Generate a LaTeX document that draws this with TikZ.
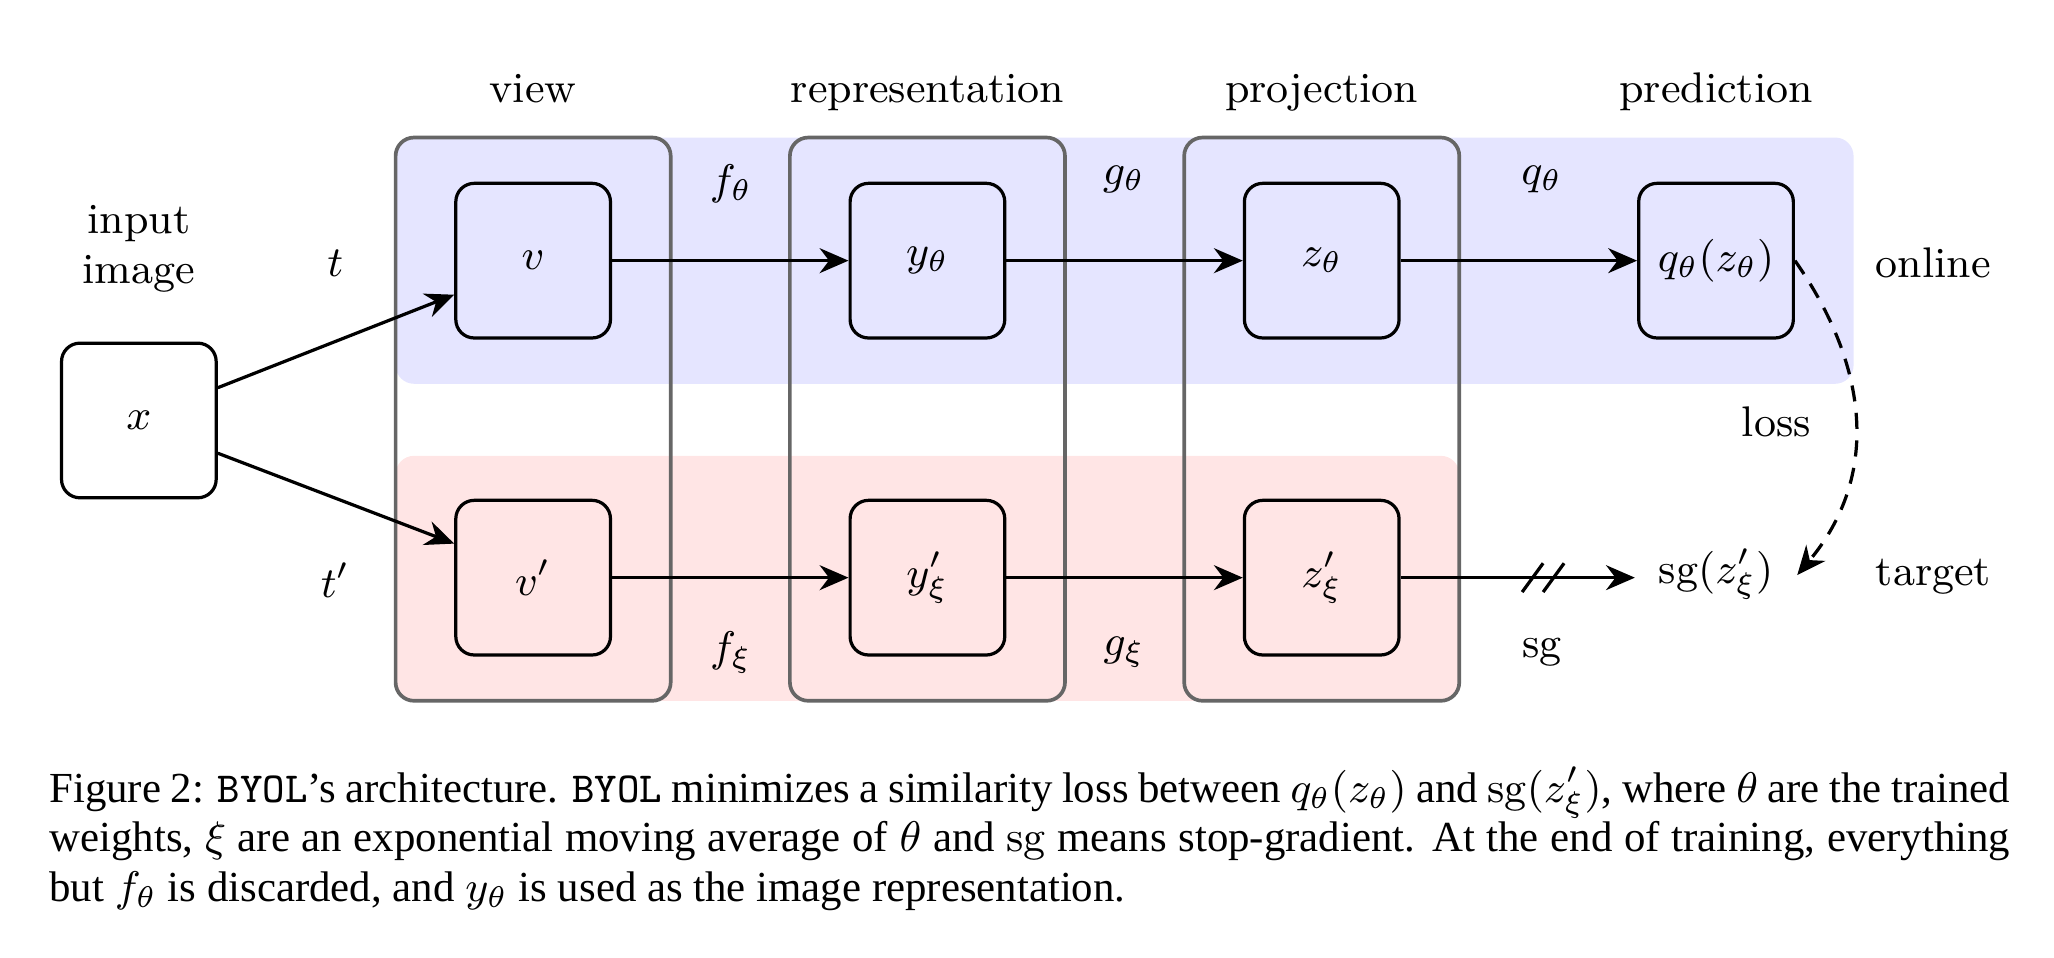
\RequirePackage{fix-cm}
\documentclass[tikz,border=0pt]{standalone}
\usepackage{fontspec}
\newfontfamily\capfont{Liberation Serif}
\usetikzlibrary{arrows.meta,calc}
\begin{document}
\begin{tikzpicture}[x=0.01cm,y=0.01cm,
  box/.style={draw,line width=0.7pt,rounded corners=4pt,minimum width=1.18cm,minimum height=1.18cm,inner sep=0pt,font=\fontsize{9.3}{11}\selectfont},
  frame/.style={draw=black!60,line width=0.8pt,rounded corners=4pt},
  lbl/.style={font=\fontsize{9.3}{11}\selectfont,inner sep=0pt},
  arr/.style={line width=0.7pt,-{Stealth[length=2.2mm,width=1.9mm]}},
]
\useasboundingbox (0,0) rectangle (1568,731);
% bands
\fill[blue!10, rounded corners=4pt] (302,438) rectangle (1415,626);
\fill[red!10, rounded corners=4pt] (302,196) rectangle (1114,383);
% column frames
\draw[frame] (302,196) rectangle (512,626);
\draw[frame] (603,196) rectangle (813,626);
\draw[frame] (904,196) rectangle (1114,626);
% column labels
\node[lbl,anchor=base] (lview) at (407,653) {view};
\node[lbl,anchor=base] (lrep) at (708,653) {representation};
\node[lbl,anchor=base] (lproj) at (1009,653) {projection};
\node[lbl,anchor=base] (lpred) at (1310,653) {prediction};
% nodes
\node[box] (x) at (106,410) {$x$};
\node[box] (v) at (407,532) {$v$};
\node[box] (vp) at (407,290) {$v'$};
\node[box] (y) at (708,532) {$y_\theta$};
\node[box] (yp) at (708,290) {$y'_\xi$};
\node[box] (z) at (1009,532) {$z_\theta$};
\node[box] (zp) at (1009,290) {$z'_\xi$};
\node[box] (q) at (1310,532) {$q_\theta(z_\theta)$};
\node[lbl,inner xsep=5pt] (sg) at (1310,293) {$\mathrm{sg}(z'_\xi)$};
% side labels
\node[lbl,align=center] (inp) at (106,541) {input\\image};
\node[lbl] (t) at (256,530) {$t$};
\node[lbl] (tp) at (256,288) {$t'$};
\node[lbl] (ft) at (558,591) {$f_\theta$};
\node[lbl] (gt) at (858,594) {$g_\theta$};
\node[lbl] (qt) at (1177,594) {$q_\theta$};
\node[lbl] (fx) at (558,233) {$f_\xi$};
\node[lbl] (gx) at (858,233) {$g_\xi$};
\node[lbl] (sgl) at (1177,233) {$\mathrm{sg}$};
\node[lbl] (online) at (1476,530) {online};
\node[lbl] (target) at (1476,291) {target};
\node[lbl] (loss) at (1356,409) {loss};
% connectors
\draw[arr] ($(x.east)+(0,25)$) -- ($(v.west)+(0,-26)$);
\draw[arr] ($(x.east)+(0,-25)$) -- ($(vp.west)+(0,26)$);
\draw[arr] (v) -- (y);
\draw[arr] (y) -- (z);
\draw[arr] (z) -- (q);
\draw[arr] (vp) -- (yp);
\draw[arr] (yp) -- (zp);
\draw[arr] (zp) -- (zp -| sg.west);
\coordinate (s1) at (1170,290);
\coordinate (s2) at (1186,290);
\draw[line width=0.7pt] ($(s1)+(-8,-11)$) -- ($(s1)+(8,11)$);
\draw[line width=0.7pt] ($(s2)+(-8,-11)$) -- ($(s2)+(8,11)$);
\coordinate (lossend) at (1372,292);
\draw[line width=0.7pt,dash pattern=on 3.5pt off 2.5pt,-{Stealth[length=2.2mm,width=1.9mm]}] (q.east) to[out=-55,in=50,looseness=1.05] (lossend);
% caption
\node[anchor=north west,inner sep=0pt,text width=14.96cm,align=justify,font=\capfont\fontsize{9.3}{10.8}\selectfont] (cap) at (37,146) {Figure 2: {\ttfamily BYOL}’s architecture. {\ttfamily BYOL} minimizes a similarity loss between $q_\theta(z_\theta)$ and $\mathrm{sg}(z'_\xi)$, where $\theta$ are the trained\linebreak weights, $\xi$ are an exponential moving average of $\theta$ and $\mathrm{sg}$ means stop-gradient. At the end of training, everything\linebreak but $f_\theta$ is discarded, and $y_\theta$ is used as the image representation.};
\end{tikzpicture}
\end{document}
